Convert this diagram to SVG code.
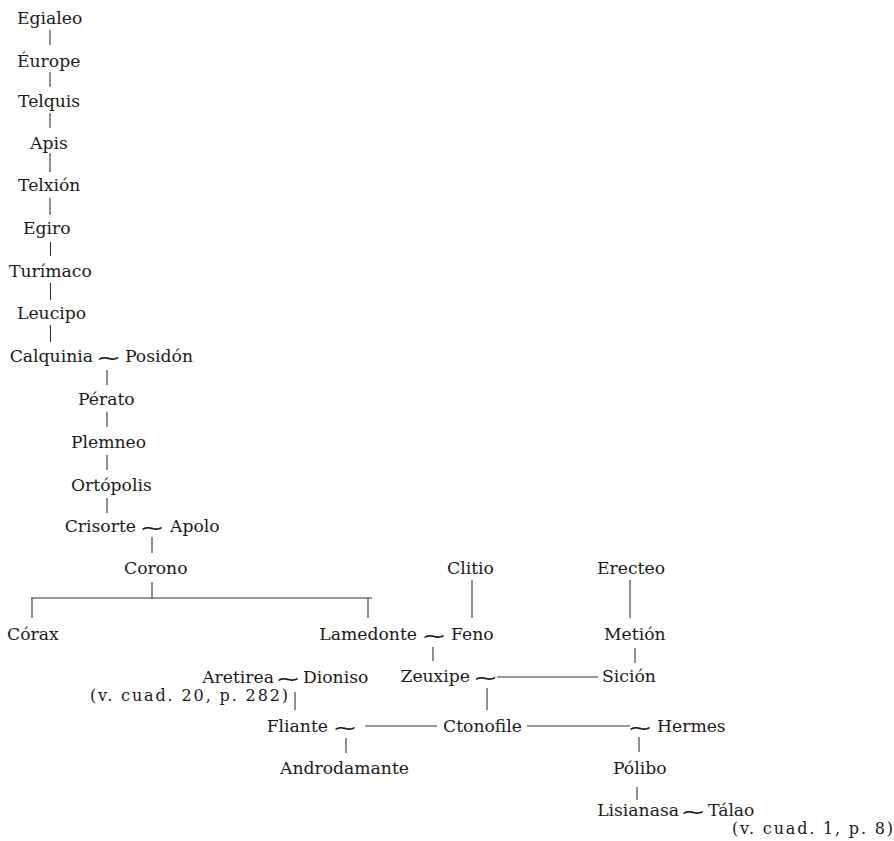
<svg xmlns="http://www.w3.org/2000/svg" width="894" height="841" viewBox="0 0 894 841">
<style>
text{font-family:"DejaVu Serif","Liberation Serif",serif;font-size:17.2px;fill:#1a1a1a}
.e{text-anchor:end}
.p{font-size:16px}
text.t{font-family:"DejaVu Sans","Noto Sans",sans-serif;font-size:21px;text-anchor:middle}
.c line{stroke:#333;stroke-width:1.1}
</style>
<rect width="894" height="841" fill="#fff"/>
<g class="c" id="connectors">
<line x1="50" y1="30" x2="50" y2="45"/>
<line x1="50" y1="72" x2="50" y2="87"/>
<line x1="50" y1="113" x2="50" y2="128"/>
<line x1="50" y1="153" x2="50" y2="172"/>
<line x1="50" y1="198" x2="50" y2="215"/>
<line x1="50.5" y1="242" x2="50.5" y2="256"/>
<line x1="50.5" y1="283" x2="50.5" y2="300"/>
<line x1="50.5" y1="325" x2="50.5" y2="342"/>
<line x1="107" y1="370" x2="107" y2="385"/>
<line x1="107" y1="412" x2="107" y2="427"/>
<line x1="107" y1="455" x2="107" y2="470"/>
<line x1="107" y1="498" x2="107" y2="513"/>
<line x1="152" y1="537" x2="152" y2="553"/>
<line x1="152" y1="582" x2="152" y2="598"/>
<line x1="31" y1="598" x2="372" y2="598"/>
<line x1="32" y1="598" x2="32" y2="618"/>
<line x1="368" y1="598" x2="368" y2="618"/>
<line x1="472" y1="580" x2="472" y2="618"/>
<line x1="630" y1="580" x2="630" y2="618"/>
<line x1="433" y1="647" x2="433" y2="661"/>
<line x1="635" y1="648" x2="635" y2="663"/>
<line x1="295" y1="692" x2="295" y2="710"/>
<line x1="497" y1="677" x2="598" y2="677"/>
<line x1="487" y1="688" x2="487" y2="710"/>
<line x1="365" y1="726" x2="437" y2="726"/>
<line x1="527" y1="726" x2="630" y2="726"/>
<line x1="346" y1="738" x2="346" y2="753"/>
<line x1="639" y1="737" x2="639" y2="752"/>
<line x1="637" y1="787" x2="637" y2="800"/>
</g>
<g id="egialeo"><text x="17" y="24">Egialeo</text></g>
<g id="europe"><text x="17" y="66.5">Éurope</text></g>
<g id="telquis"><text x="18" y="106.5">Telquis</text></g>
<g id="apis"><text x="30" y="149">Apis</text></g>
<g id="telxion"><text x="18" y="191">Telxión</text></g>
<g id="egiro"><text x="23" y="234">Egiro</text></g>
<g id="turimaco"><text x="9" y="277">Turímaco</text></g>
<g id="leucipo"><text x="17" y="319">Leucipo</text></g>
<g id="calquinia-posidon"><text class="e" x="93" y="362">Calquinia</text><text class="t" transform="translate(108.5 365) scale(1.45 1)">∼</text><text x="125" y="362">Posidón</text></g>
<g id="perato"><text x="78" y="405">Pérato</text></g>
<g id="plemneo"><text x="71" y="448">Plemneo</text></g>
<g id="ortopolis"><text x="71" y="490.5">Ortópolis</text></g>
<g id="crisorte-apolo"><text class="e" x="136" y="532">Crisorte</text><text class="t" transform="translate(152 535) scale(1.45 1)">∼</text><text x="170" y="532">Apolo</text></g>
<g id="corono"><text x="124" y="574">Corono</text></g>
<g id="clitio"><text x="447" y="574">Clitio</text></g>
<g id="erecteo"><text x="597" y="574">Erecteo</text></g>
<g id="corax"><text x="7" y="640">Córax</text></g>
<g id="lamedonte-feno"><text class="e" x="417" y="640">Lamedonte</text><text class="t" transform="translate(434 643) scale(1.45 1)">∼</text><text x="451" y="640">Feno</text></g>
<g id="metion"><text x="604" y="640">Metión</text></g>
<g id="aretirea-dioniso"><text class="e" x="274" y="683">Aretirea</text><text class="t" transform="translate(288 686) scale(1.45 1)">∼</text><text x="303" y="683">Dioniso</text><text class="p" x="90" y="701" textLength="198" lengthAdjust="spacing">(v. cuad. 20, p. 282)</text></g>
<g id="zeuxipe"><text class="e" x="470" y="682">Zeuxipe</text><text class="t" transform="translate(485.5 685) scale(1.45 1)">∼</text></g>
<g id="sicion"><text x="602" y="682">Sición</text></g>
<g id="fliante"><text class="e" x="328" y="732">Fliante</text><text class="t" transform="translate(345 735) scale(1.45 1)">∼</text></g>
<g id="ctonofile"><text x="443" y="732">Ctonofile</text></g>
<g id="hermes"><text class="t" transform="translate(640 735) scale(1.45 1)">∼</text><text x="657" y="732">Hermes</text></g>
<g id="androdamante"><text x="280" y="774">Androdamante</text></g>
<g id="polibo"><text x="613" y="774">Pólibo</text></g>
<g id="lisianasa-talao"><text class="e" x="679" y="816">Lisianasa</text><text class="t" transform="translate(693 819) scale(1.45 1)">∼</text><text x="708" y="816">Tálao</text><text class="p" x="732" y="834" textLength="161" lengthAdjust="spacing">(v. cuad. 1, p. 8)</text></g>
</svg>
